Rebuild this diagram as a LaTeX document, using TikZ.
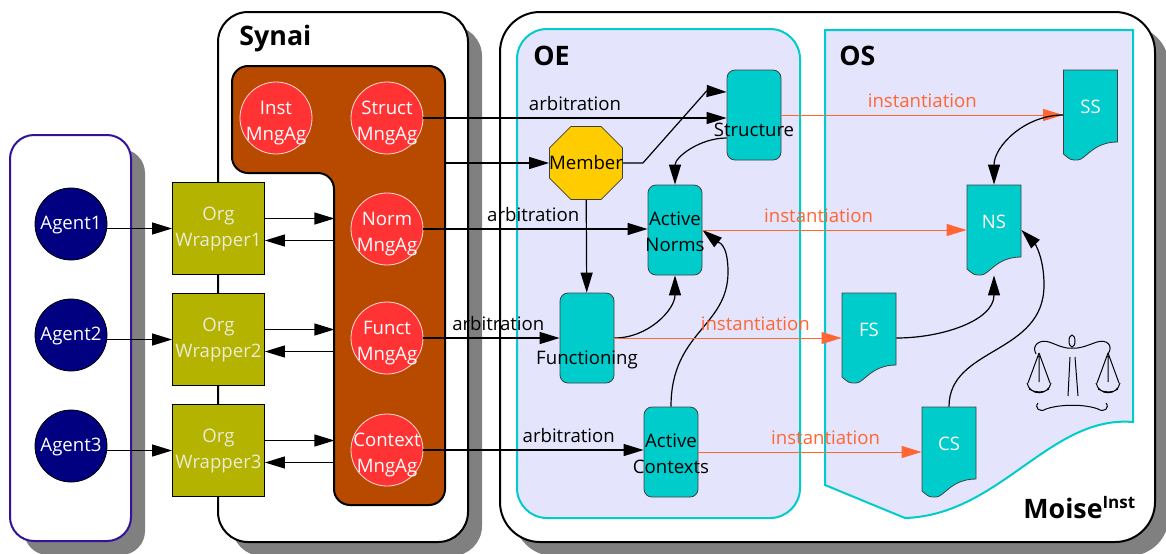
\documentclass[tikz,border=0pt]{standalone}
\usepackage{fontspec}
\setmainfont{Open Sans}
\usetikzlibrary{arrows.meta,shapes.geometric,shadows}

\definecolor{agentblue}{RGB}{0,0,128}
\definecolor{agentframe}{RGB}{51,17,153}
\definecolor{wrapolive}{RGB}{179,179,0}
\definecolor{wraptext}{RGB}{235,235,215}
\definecolor{mngbrown}{RGB}{184,74,0}
\definecolor{mngred}{RGB}{255,51,51}
\definecolor{entcyan}{RGB}{0,204,204}
\definecolor{oelav}{RGB}{228,228,252}
\definecolor{instorange}{RGB}{255,102,51}
\definecolor{memberyellow}{RGB}{255,204,0}
\definecolor{shadowgray}{RGB}{128,128,128}

% specification sheet: flat top, wavy bottom edge
\newcommand\docnode[3]{%
 \begin{scope}[shift={(#2)}]
  \draw[docline] (-27,-45) -- (27,-45) -- (27,27) .. controls (2,27) and (-5,45) .. (-13,45) .. controls (-20,45) .. (-27,39) -- cycle;
 \end{scope}
 \node[docnode,label={[white,yshift=4pt]center:#3}] (#1) at (#2) {};}

\begin{document}
\begin{tikzpicture}[x=0.5pt,y=-0.5pt,>={Triangle[length=10pt,width=6pt]},
 font=\fontsize{9.3}{13}\selectfont, every label/.append style={align=center,inner sep=0pt},
 panel/.style={line width=1pt,rounded corners=#1,fill=white,drop shadow={shadow xshift=7pt,shadow yshift=-7pt,opacity=1,fill=shadowgray}},
 heading/.style={font=\fontsize{13.4}{16}\selectfont\bfseries,anchor=base west,inner sep=0pt},
 agent/.style={circle,fill=agentblue,draw=black,text=white,minimum size=36pt,inner sep=0pt,text depth=1.5pt},
 wrapper/.style={fill=wrapolive,draw=black,text=wraptext,minimum size=46pt,inner sep=0pt,align=center},
 mng/.style={circle,fill=mngred,draw=red!15,minimum size=36pt,inner sep=0pt},
 mnglabel/.style={white,yshift=-2.5pt},
 ent/.style={fill=entcyan,draw=black!75,rounded corners=4pt,minimum width=27pt,minimum height=45pt,inner sep=0pt},
 member/.style={regular polygon,regular polygon sides=8,minimum size=39.5pt,fill=memberyellow,draw=black!75,inner sep=0pt},
 docnode/.style={minimum width=27pt,minimum height=45pt,inner sep=0pt},
 docline/.style={fill=entcyan,draw=black!75},
 conn/.style={line width=0.6pt},
 inst/.style={line width=0.5pt,draw=instorange,text=instorange}]
 \useasboundingbox (0,0) rectangle (1166,553);

 % the three containers
 \draw[panel=12pt,draw=agentframe] (10,135) rectangle (131,541);
 \draw[panel=15pt] (218,12) rectangle (468,542);
 \draw[panel=20pt] (500,12) rectangle (1155,542);
 \node[heading] (synai-t) at (239,45) {Synai};

 % OE and OS
 \draw[fill=oelav,draw=entcyan,line width=1pt,rounded corners=15pt] (517,29) rectangle (800,518);
 \draw[fill=oelav,draw=entcyan,line width=1pt] (825,30) -- (1133,30) -- (1133,422) .. controls (1050,415) and (1000,515) .. (905,518) -- (825,485) -- cycle;
 \node[heading] (oe-t) at (533,65) {OE};
 \node[heading] (os-t) at (839,65) {OS};
 \node[heading] (moise) at (1023,518) {Moise\raisebox{5pt}{\fontsize{8.5}{10}\selectfont Inst}};

 % managers block
 \draw[fill=mngbrown,line width=1pt,rounded corners=8pt] (232,66) -- (445,66) -- (445,505) -- (334,505) -- (334,173) -- (232,173) -- cycle;
 \coordinate (mng-out) at (445,163);
 \node[mng,label={[mnglabel]center:Inst\\MngAg}] (inst) at (276,118) {};
 \node[mng,label={[mnglabel]center:Struct\\MngAg}] (struct) at (387,118) {};
 \node[mng,label={[mnglabel]center:Norm\\MngAg}] (norm) at (387,229) {};
 \node[mng,label={[mnglabel]center:Funct\\MngAg}] (funct) at (387,338) {};
 \node[mng,label={[mnglabel]center:Context\\MngAg}] (context) at (387,450) {};

 % agents and their wrappers
 \node[agent] (a1) at (71,224) {Agent1};
 \node[agent] (a2) at (71,335) {Agent2};
 \node[agent] (a3) at (71,446) {Agent3};
 \node[wrapper] (w1) at (218.5,228.5) {Org\\Wrapper1};
 \node[wrapper] (w2) at (218.5,339.5) {Org\\Wrapper2};
 \node[wrapper] (w3) at (218.5,450.5) {Org\\Wrapper3};
 \draw[conn,->] (a1.east |- w1) -- (w1.west);
 \draw[conn,->] (a2.east |- w2) -- (w2.west);
 \draw[conn,->] (a3.east |- w3) -- (w3.west);
 \draw[conn,->] ([yshift=5pt]w1.east) -- ++(69.5,0);
 \draw[conn,<-] ([yshift=-6pt]w1.east) -- ++(69.5,0);
 \draw[conn,->] ([yshift=5pt]w2.east) -- ++(69.5,0);
 \draw[conn,<-] ([yshift=-6pt]w2.east) -- ++(69.5,0);
 \draw[conn,->] ([yshift=5pt]w3.east) -- ++(69.5,0);
 \draw[conn,<-] ([yshift=-6pt]w3.east) -- ++(69.5,0);

 % organisational entity
 \node[ent,label={[yshift=-7.5pt]center:Structure}] (structure) at (754,115) {};
 \node[member,label={center:Member}] (member) at (586,163) {};
 \node[ent,label={[yshift=-1pt]center:Active\\Norms}] (an) at (675,230) {};
 \node[ent,label={[yshift=-11pt]center:Functioning}] (fun) at (587,338) {};
 \node[ent,label={[yshift=-1pt]center:Active\\Contexts}] (ac) at (671,452) {};

 % organisational specification
 \docnode{ss}{1090.5,115}{SS}
 \docnode{ns}{994,230}{NS}
 \docnode{fs}{869,338}{FS}
 \docnode{cs}{949,452}{CS}

 \draw[conn,->] (struct) -- node[above]{arbitration} (structure.west |- struct);
 \draw[conn,->] (mng-out) -- (member);
 \draw[conn,->] (member.east) -- ++(20,0) -- ([xshift=-10pt,yshift=12pt]structure.west) -- ([yshift=11.5pt]structure.west);
 \draw[conn,->] ([yshift=-11.5pt]structure.west) to[out=180,in=90] (an.north);
 \draw[conn,->] (norm) -- node[above,pos=0.49]{arbitration} (an.west |- norm);
 \draw[conn,->] (member) -- (fun);
 \draw[conn,->] (funct) -- node[above,pos=0.55]{arbitration} (fun.west |- funct);
 \draw[conn,->] (fun.east) to[out=0,in=-90] (an.south);
 \draw[conn,->] (context) -- node[above,pos=0.66]{arbitration} (ac.west |- context);
 \draw[conn,->] (ac.north) .. controls +(0,-75) and +(0,55) .. (728,272) .. controls +(0,-30) and +(15,12) .. (an.east);

 \draw[inst,->] (structure) -- node[above]{instantiation} (ss);
 \draw[inst,->] (an) -- node[above,pos=0.44]{instantiation} (ns);
 \draw[inst,->] (fun) -- node[above,pos=0.62]{instantiation} (fs);
 \draw[inst,->] (ac) -- node[above,pos=0.57]{instantiation} (cs);

 \draw[conn,->] (ss.west) to[out=180,in=90] (ns.north);
 \draw[conn,->] (fs.east) to[out=0,in=-90] (ns.south);
 \draw[conn,->] (cs.north) .. controls +(0,-60) and +(0,70) .. (1044,285) .. controls +(0,-30) and +(12,12) .. (ns.east);

 % scales
 \begin{scope}[line width=0.5pt]
  \draw (1072,341) ellipse (3 and 6);
  \draw (1036,354) .. controls (1031,345) and (1040,339) .. (1049,342) .. controls (1058,345) and (1064,349) .. (1072,348) .. controls (1080,349) and (1088,345) .. (1097,342) .. controls (1106,339) and (1114,345) .. (1108,354);
  \draw (1039,353) -- (1028,383) (1039,353) -- (1050,383) (1039,356) -- (1039,382);
  \draw (1027,383) .. controls (1030,396) and (1048,396) .. (1051,383) (1029,389) .. controls (1035,393) and (1044,393) .. (1049,389);
  \draw (1108,353) -- (1097,383) (1108,353) -- (1119,383) (1108,356) -- (1108,382);
  \draw (1096,383) .. controls (1099,396) and (1117,396) .. (1120,383) (1098,389) .. controls (1104,393) and (1113,393) .. (1118,389);
  \draw (1070,357) -- (1068,396) (1075,357) -- (1078,396);
  \draw (1038,403) .. controls (1034,408) and (1040,413) .. (1046,409) .. controls (1060,404) and (1085,404) .. (1098,409) .. controls (1104,413) and (1110,408) .. (1106,403);
 \end{scope}
\end{tikzpicture}
\end{document}
